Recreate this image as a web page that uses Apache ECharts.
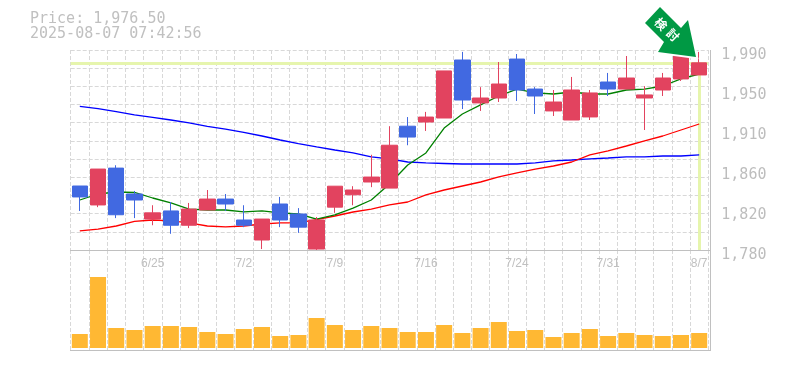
<!DOCTYPE html>
<html>
<head>
<meta charset="utf-8">
<style>
  html, body { margin: 0; padding: 0; background: #fff; }
  #chart { width: 785px; height: 370px; }
</style>
<script src="https://cdn.jsdelivr.net/npm/echarts@6/dist/echarts.min.js"></script>
</head>
<body>
<div id="chart"></div>
<script>
const dates = ['6/19','6/20','6/23','6/24','6/25','6/26','6/27','6/30','7/1','7/2','7/3','7/4','7/7','7/8','7/9','7/10','7/11','7/14','7/15','7/16','7/17','7/18','7/22','7/23','7/24','7/25','7/28','7/29','7/30','7/31','8/1','8/4','8/5','8/6','8/7'];
const opens = [1847.2,1827.3,1866,1838.8,1812.5,1821,1806,1822,1833.5,1811.5,1790.5,1828.3,1817.8,1781,1825,1838,1851.4,1845,1910,1914.4,1918.6,1979.5,1934.4,1939.6,1980.5,1949,1926,1916.5,1919.7,1956.4,1949,1939.6,1948,1959.6,1963.8];
const closes = [1835.7,1865,1817,1832.5,1819,1806,1823,1833.5,1828.3,1806,1812.5,1811.5,1804,1811.5,1847,1843,1856.6,1890,1898.6,1919.6,1968,1937.5,1939.6,1954.3,1948,1941.7,1935.4,1948,1944.9,1949,1960.6,1942.8,1960.6,1988,1976.5];
const lows = [1821,1825,1813.5,1813.5,1806,1797,1803,1822,1821,1804,1781,1804,1798,1779,1819,1827,1846,1845,1890,1905,1918.6,1928,1926,1935.4,1936.5,1922.8,1920.7,1916.5,1916.5,1941.7,1949,1906,1941.7,1957.5,1963.8];
const highs = [1847.2,1865,1869,1842,1827,1830.4,1829.4,1843,1838.8,1827,1812.5,1835.7,1824,1814.6,1847,1847,1880,1910,1919.6,1925,1968,1988,1951,1977.4,1985.8,1951,1948,1961.7,1948,1965.9,1983.7,1952,1965.9,1988,1988];
const maShort = [1832.5,1838.8,1840.9,1840.4,1834.6,1829.4,1823,1822,1822,1820,1821,1819,1817.8,1812.5,1816.8,1824,1832.5,1849.3,1869.3,1881.9,1908,1922.8,1932.3,1941.7,1949,1944.9,1943.8,1945.9,1943.8,1943.8,1948,1949,1952.2,1959.6,1964.8];
const maMid = [1800,1802,1805.2,1810,1811.5,1810.5,1808.4,1805.2,1804.2,1805.2,1807.3,1808.4,1808.4,1812,1815.7,1819.9,1823,1827.3,1830.4,1837.8,1843,1847.2,1851.4,1856.7,1860.9,1865,1868.2,1872.4,1879.8,1884,1889.2,1894.5,1899.7,1906,1912.3];
const maLong = [1930.9,1928.4,1925.2,1921.8,1919.3,1916.5,1913.4,1909.9,1907,1903.4,1899.7,1895.5,1891.8,1888.2,1885,1881.9,1877.7,1875.6,1872.4,1871.4,1870.8,1870.3,1870.3,1870.3,1870.3,1871.4,1873.5,1874.5,1875.6,1876.6,1877.7,1877.7,1878.7,1878.7,1879.8];
const volumes = [14,71,20,18,22,22,21,16,14,19,21,12,13,30,23,18,22,20,16,16,23,15,20,26,17,18,11,15,19,12,15,13,12,13,15];
const priceTicks = ['1,780','1,820','1,860','1,910','1,950','1,990'];
const lastPrice = '1,976.50';
const lastStamp = '2025-08-07 07:42:56';
const priceMin = 1780;
const priceMax = 1990;

const lastDate = dates[dates.length - 1];
const lastClose = closes[closes.length - 1];
const candles = dates.map((d, i) => [opens[i], closes[i], lows[i], highs[i]]);

const gridLine = { show: true, interval: 0, lineStyle: { color: '#d8d8d8', width: 1, type: [4, 2] } };
const hilite = { color: '#e6f5ad', width: 3, type: 'solid' };

function maSeries(data, color) {
  return {
    type: 'line', data: data, xAxisIndex: 0, yAxisIndex: 0, z: 2,
    symbol: 'none', silent: true, animation: false,
    lineStyle: { color: color, width: 1.3 },
  };
}

function frameLine(x1, y1, x2, y2) {
  return { type: 'line', z: 4, silent: true, shape: { x1, y1, x2, y2 }, style: { stroke: '#c0c0c0', lineWidth: 1 } };
}

let options = {
  animation: false,
  backgroundColor: '#fff',
  grid: [
    { left: 70.7, top: 50, width: 637.6, height: 200 },
    { left: 70.7, top: 250, width: 637.6, height: 100 },
  ],
  xAxis: [
    {
      type: 'category', data: dates, gridIndex: 0,
      axisLine: { show: false }, axisTick: { show: false },
      splitLine: gridLine,
      axisLabel: {
        color: '#c0c0c0', fontFamily: 'Liberation Sans', fontSize: 12, margin: 8,
        interval: (i) => i % 5 === 4,
      },
    },
    {
      type: 'category', data: dates, gridIndex: 1,
      axisLine: { show: false }, axisTick: { show: false }, axisLabel: { show: false },
      splitLine: gridLine,
    },
  ],
  yAxis: [
    { type: 'value', gridIndex: 0, min: priceMin, max: priceMax, show: false, splitLine: { show: false } },
    {
      // rows of the dashed grid
      type: 'value', gridIndex: 0, min: 0, max: 11, interval: 1,
      axisLine: { show: false }, axisTick: { show: false }, axisLabel: { show: false },
      splitLine: { show: true, lineStyle: { color: '#d8d8d8', width: 1, type: [4, 2] } },
    },
    {
      // price labels, one for each step
      type: 'value', gridIndex: 0, min: 0, max: 5, interval: 1, position: 'right',
      axisLine: { show: false }, axisTick: { show: false }, splitLine: { show: false },
      axisLabel: {
        color: '#bdbdbd', fontFamily: 'DejaVu Sans Mono', fontSize: 15, margin: 13,
        verticalAlign: 'top', lineHeight: 10,
        formatter: (v) => priceTicks[v],
      },
    },
    { type: 'value', gridIndex: 1, min: -2, max: 98, show: false, splitLine: { show: false } },
  ],
  series: [
    {
      type: 'line', data: [], xAxisIndex: 0, yAxisIndex: 0, silent: true,
      markLine: {
        z: 1, silent: true, symbol: ['none', 'none'], label: { show: false }, animation: false,
        lineStyle: hilite,
        data: [
          { yAxis: lastClose, lineStyle: hilite },
          [
            { coord: [lastDate, priceMin], lineStyle: hilite },
            { coord: [lastDate, lastClose] },
          ],
        ],
      },
    },
    maSeries(maLong, '#0000ff'),
    maSeries(maMid, '#ff0000'),
    maSeries(maShort, '#008000'),
    {
      type: 'candlestick', data: candles, xAxisIndex: 0, yAxisIndex: 0, z: 3,
      barWidth: 16, clip: false, silent: true,
      itemStyle: { color: '#e2435f', color0: '#4169e1', borderColor: '#e2435f', borderColor0: '#4169e1', borderWidth: 1 },
    },
    {
      type: 'bar', data: volumes, xAxisIndex: 1, yAxisIndex: 3, barWidth: 16, silent: true,
      itemStyle: { color: '#ffb833' },
    },
  ],
  graphic: [
    frameLine(70, 250.5, 710, 250.5),
    frameLine(70, 350.5, 710, 350.5),
    frameLine(710.5, 50, 710.5, 351),
    {
      type: 'polygon', z: 10, silent: true,
      shape: { points: [[660, 7], [645, 23], [664, 42], [658, 52], [696, 57], [688, 20], [681, 28]] },
      style: { fill: '#009944', stroke: '#fff', lineWidth: 4 },
    },
    {
      type: 'polygon', z: 11, silent: true,
      shape: { points: [[660, 7], [645, 23], [664, 42], [658, 52], [696, 57], [688, 20], [681, 28]] },
      style: { fill: '#009944' },
    },
    {
      type: 'text', z: 12, silent: true, x: 661, y: 24, rotation: -Math.PI / 4,
      style: { text: '検', fill: '#fff', font: 'bold 12px "Noto Sans CJK JP"', align: 'center', verticalAlign: 'middle' },
    },
    {
      type: 'text', z: 12, silent: true, x: 673, y: 35, rotation: -Math.PI / 4,
      style: { text: '討', fill: '#fff', font: 'bold 12px "Noto Sans CJK JP"', align: 'center', verticalAlign: 'middle' },
    },
    {
      type: 'text', z: 12, silent: true, x: 30, y: 19,
      style: { text: 'Price: ' + lastPrice, fill: '#c0c0c0', font: '15px "DejaVu Sans Mono"', verticalAlign: 'middle' },
    },
    {
      type: 'text', z: 12, silent: true, x: 30, y: 34,
      style: { text: lastStamp, fill: '#c0c0c0', font: '15px "DejaVu Sans Mono"', verticalAlign: 'middle' },
    },
  ],
};

let myChart = echarts.init(document.getElementById('chart'), null, { renderer: 'canvas' });
myChart.setOption(options);
</script>
</body>
</html>
